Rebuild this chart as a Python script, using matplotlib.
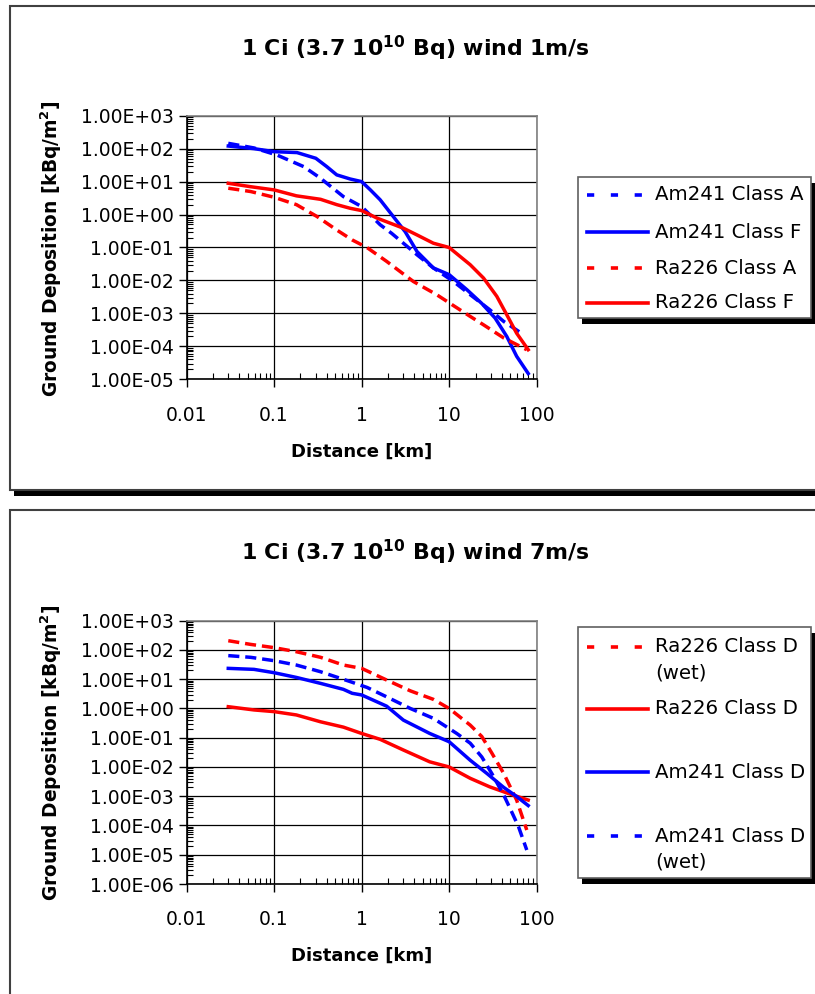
import numpy as np
import matplotlib
matplotlib.use("Agg")
import matplotlib.pyplot as plt
from matplotlib.patches import Rectangle
from matplotlib.lines import Line2D
from matplotlib.ticker import FixedLocator, FuncFormatter, LogLocator, NullFormatter

plt.rcParams["font.family"] = ["DejaVu Sans"]
plt.rcParams["mathtext.fontset"] = "dejavusans"

W, H = 815, 994

#### Data: wind 1 m/s ####
x_am_a = [0.03, 0.059, 0.108, 0.218, 0.34, 0.62, 1.0, 1.63, 2.2, 3.0, 4.3, 6.6, 11.2, 17.4, 29, 42, 67]
y_am_a = [145, 105, 64, 28.5, 12.6, 3.5, 1.75, 0.49, 0.27, 0.135, 0.06, 0.024, 0.0093, 0.0037, 0.0013, 5.7e-4, 2.5e-4]

x_am_f = [0.03, 0.059, 0.1, 0.183, 0.30, 0.40, 0.52, 0.74, 1.0, 1.26, 1.63, 2.3, 3.15, 4.3, 6.6, 10, 16, 23.6, 33.5, 45.5, 59, 80]
y_am_f = [120, 100, 81, 76, 51, 28.5, 16, 12, 10, 5.6, 2.8, 0.87, 0.3, 0.075, 0.024, 0.015, 0.0052, 0.002, 7.2e-4, 2e-4, 5e-5, 1.5e-5]

x_ra_a = [0.03, 0.054, 0.1, 0.18, 0.31, 0.52, 0.78, 1.15, 1.93, 3.9, 7.2, 11.7, 17.4, 24.7, 42, 77]
y_ra_a = [6.3, 5.0, 3.35, 2.0, 0.87, 0.34, 0.17, 0.1, 0.038, 0.0093, 0.0037, 0.0016, 8.1e-4, 4.5e-4, 1.8e-4, 7.9e-5]

x_ra_f = [0.03, 0.054, 0.1, 0.18, 0.34, 0.52, 0.74, 1.0, 1.5, 3.0, 4.3, 6.6, 10, 17.4, 24.7, 35, 45.5, 59, 80]
y_ra_f = [8.9, 7.0, 5.6, 3.7, 2.9, 2.0, 1.55, 1.32, 0.78, 0.385, 0.24, 0.135, 0.1, 0.03, 0.0118, 0.0033, 9.1e-4, 2.5e-4, 7.9e-5]

#### Data: wind 7 m/s ####
x_ra_dw = [0.03, 0.054, 0.1, 0.18, 0.34, 0.62, 1.0, 1.93, 3.6, 6.6, 10, 17.4, 23.6, 30.7, 42, 59, 77]
y_ra_dw = [207, 155, 120, 87, 56, 30.5, 23.5, 9.4, 4.0, 2.05, 1.0, 0.27, 0.11, 0.03, 0.006, 7.4e-4, 7e-5]

x_ra_d = [0.03, 0.059, 0.1, 0.18, 0.34, 0.62, 1.0, 1.63, 3.0, 6.0, 10, 17.4, 29, 45.5, 59, 80]
y_ra_d = [1.15, 0.89, 0.78, 0.6, 0.35, 0.23, 0.14, 0.088, 0.038, 0.015, 0.01, 0.0041, 0.0021, 0.0013, 0.001, 7.4e-4]

x_am_d = [0.03, 0.059, 0.1, 0.18, 0.34, 0.62, 0.78, 1.0, 1.93, 3.0, 6.0, 10, 17.4, 27, 42, 59, 80]
y_am_d = [23.5, 21.7, 16.7, 11.5, 7.2, 4.5, 3.3, 2.9, 1.2, 0.40, 0.14, 0.073, 0.017, 0.006, 0.002, 9.8e-4, 4.8e-4]

x_am_dw = [0.03, 0.054, 0.1, 0.18, 0.34, 0.74, 1.16, 1.93, 3.6, 6.6, 12.2, 17.4, 23.6, 30.7, 42, 49.5, 62, 77]
y_am_dw = [64, 56, 43, 30.5, 18, 8.3, 5.2, 2.5, 1.0, 0.46, 0.14, 0.065, 0.022, 0.006, 0.0011, 3.9e-4, 9.1e-5, 1.45e-5]

x_ticks = [0.01, 0.1, 1, 10, 100]
titles = [r"1 Ci (3.7 10$^{\mathbf{10}}$ Bq) wind 1m/s", r"1 Ci (3.7 10$^{\mathbf{10}}$ Bq) wind 7m/s"]
ylabel = r"Ground Deposition [kBq/m$^{\mathbf{2}}$]"
xlabel = "Distance [km]"

BLUE = "#0000FF"
RED = "#FF0000"
LW = 2.5
DASH = (3.2, 1.7)


def fx(px):
    return px / W


def fy(py):
    return 1 - py / H


def box(fig, x0, y0, x1, y1, shadow, z, lw=1.5, edge="#404040"):
    # shadow first, then white box on top
    fig.add_artist(Rectangle((fx(x0 + shadow[0]), fy(y1 + shadow[1])),
                             fx(x1 - x0), (y1 - y0) / H,
                             facecolor="black", edgecolor="none",
                             transform=fig.transFigure, zorder=z))
    fig.add_artist(Rectangle((fx(x0), fy(y1)), fx(x1 - x0), (y1 - y0) / H,
                             facecolor="white", edgecolor=edge, lw=lw,
                             transform=fig.transFigure, zorder=z + 0.5))


def setup_axes(ax, ymin):
    ax.set_xscale("log")
    ax.set_yscale("log")
    ax.set_xlim(0.01, 100)
    ax.set_ylim(ymin, 1e3)
    ax.xaxis.set_major_locator(FixedLocator(x_ticks))
    ax.xaxis.set_major_formatter(FuncFormatter(lambda v, p: f"{v:g}"))
    ax.xaxis.set_minor_locator(LogLocator(base=10, subs=np.arange(2, 10), numticks=20))
    ax.xaxis.set_minor_formatter(NullFormatter())
    yt = [10.0 ** k for k in range(int(round(np.log10(ymin))), 4)]
    ax.yaxis.set_major_locator(FixedLocator(yt))
    ax.yaxis.set_major_formatter(FuncFormatter(lambda v, p: f"{v:.2E}"))
    ax.yaxis.set_minor_locator(LogLocator(base=10, subs=np.arange(2, 10), numticks=20))
    ax.yaxis.set_minor_formatter(NullFormatter())
    ax.tick_params(which="major", direction="out", length=6, width=1, colors="black")
    ax.tick_params(axis="y", which="major", labelsize=13.5, pad=3)
    ax.tick_params(axis="x", which="major", labelsize=13.5, pad=13)
    ax.tick_params(which="minor", direction="in", length=4, width=0.8, colors="black")
    ax.grid(True, which="major", color="black", lw=0.9)
    for s in ["left", "bottom"]:
        ax.spines[s].set_color("black")
    for s in ["top", "right"]:
        ax.spines[s].set_color("#808080")
    for s in ax.spines.values():
        s.set_linewidth(1.2)


def legend(fig, x0, y0, x1, y1, entries):
    box(fig, x0, y0, x1, y1, (4, 6), 1, lw=1.2, edge="#606060")
    for row_y, label, color, dashed in entries:
        ln = Line2D([fx(587), fx(648)], [fy(row_y), fy(row_y)], color=color, lw=2.6,
                    transform=fig.transFigure, zorder=2)
        if dashed:
            ln.set_dashes((2.0, 4.6))
        fig.add_artist(ln)
        for i, part in enumerate(label.split("\n")):
            fig.text(fx(655), fy(row_y + 26 * i), part, fontsize=14.2,
                     va="center", ha="left", zorder=3)


fig = plt.figure(figsize=(W / 100, H / 100), dpi=100)

# panel frames
box(fig, 10, 6, 830, 490, (4, 6), -3)
box(fig, 10, 510, 830, 1010, (4, 6), -3)

#### Top panel ####
ax1 = fig.add_axes([fx(186.5), fy(379.3), fx(536.7 - 186.5), (379.3 - 115.7) / H])
setup_axes(ax1, 1e-5)
ax1.plot(x_am_a, y_am_a, color=BLUE, lw=LW, dashes=DASH)
ax1.plot(x_am_f, y_am_f, color=BLUE, lw=LW)
ax1.plot(x_ra_a, y_ra_a, color=RED, lw=LW, dashes=DASH)
ax1.plot(x_ra_f, y_ra_f, color=RED, lw=LW)

fig.text(fx(415), fy(48), titles[0], fontsize=15.8, fontweight="bold", ha="center", va="center")
fig.text(fx(51), fy(249), ylabel, fontsize=13.4, fontweight="bold", rotation=90, ha="center", va="center")
fig.text(fx(362), fy(452), xlabel, fontsize=13, fontweight="bold", ha="center", va="center")

legend(fig, 578, 177, 811, 318, [
    (195, "Am241 Class A", BLUE, True),
    (232, "Am241 Class F", BLUE, False),
    (268, "Ra226 Class A", RED, True),
    (303, "Ra226 Class F", RED, False),
])

#### Bottom panel ####
ax2 = fig.add_axes([fx(186.5), fy(884), fx(536.7 - 186.5), (884 - 620.7) / H])
setup_axes(ax2, 1e-6)
ax2.plot(x_ra_dw, y_ra_dw, color=RED, lw=LW, dashes=DASH)
ax2.plot(x_ra_d, y_ra_d, color=RED, lw=LW)
ax2.plot(x_am_d, y_am_d, color=BLUE, lw=LW)
ax2.plot(x_am_dw, y_am_dw, color=BLUE, lw=LW, dashes=DASH)

fig.text(fx(415), fy(552), titles[1], fontsize=15.8, fontweight="bold", ha="center", va="center")
fig.text(fx(51), fy(753), ylabel, fontsize=13.4, fontweight="bold", rotation=90, ha="center", va="center")
fig.text(fx(362), fy(956), xlabel, fontsize=13, fontweight="bold", ha="center", va="center")

legend(fig, 578, 627, 811, 878, [
    (647, "Ra226 Class D\n(wet)", RED, True),
    (709, "Ra226 Class D", RED, False),
    (772, "Am241 Class D", BLUE, False),
    (836, "Am241 Class D\n(wet)", BLUE, True),
])

fig.savefig("out.png", dpi=100, facecolor="white")
